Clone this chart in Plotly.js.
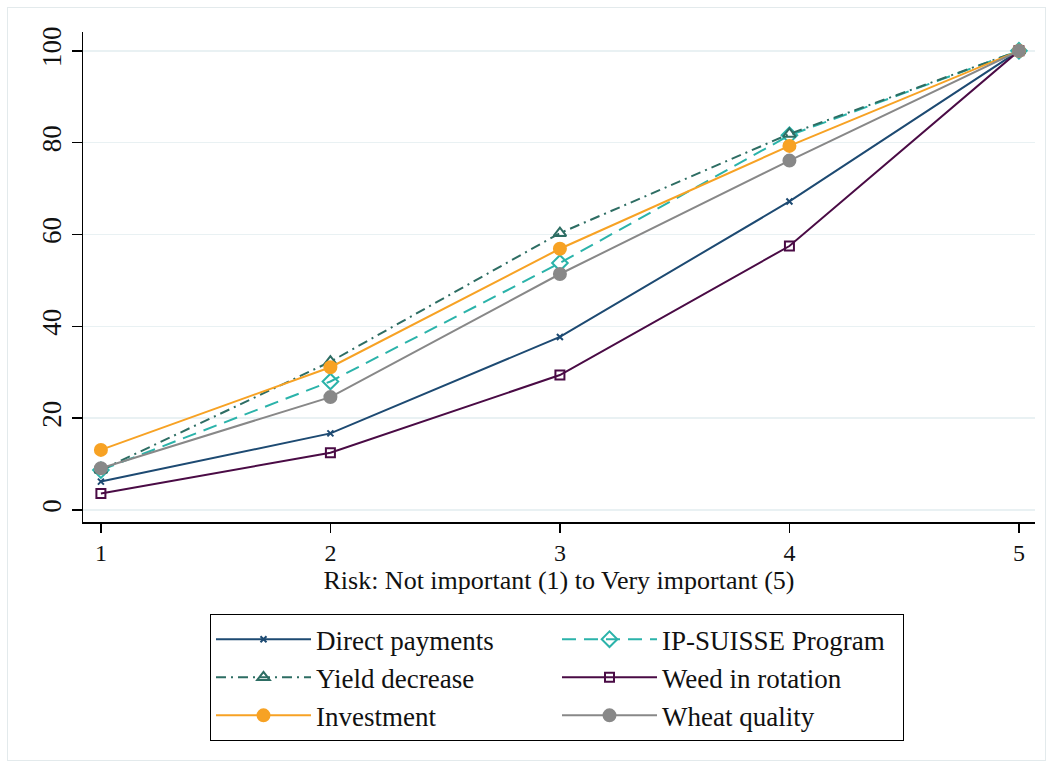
<!DOCTYPE html>
<html>
<head>
<meta charset="utf-8">
<script src="https://cdn.plot.ly/plotly-3.0.1.min.js"></script>
<style>
html,body{margin:0;padding:0;background:#fff;}
#frame{position:absolute;left:7px;top:7px;width:1039px;height:754px;border:1px solid #e3eaec;box-sizing:border-box;pointer-events:none;}
#chart{width:1054px;height:769px;}
</style>
</head>
<body>
<div id="chart"></div>
<div id="frame"></div>
<script>
const xLevels = [1, 2, 3, 4, 5];
const directPayments = [6.2, 16.7, 37.7, 67.2, 100];
const ipSuisse = [8.7, 28.0, 53.8, 81.6, 100];
const yieldDecrease = [8.7, 32.3, 60.3, 81.9, 100];
const weedInRotation = [3.6, 12.5, 29.4, 57.5, 100];
const investment = [13.1, 31.1, 56.9, 79.3, 100];
const wheatQuality = [9.1, 24.6, 51.4, 76.1, 100];

const font = 'Liberation Serif, Times New Roman, serif';

function tr(name, y, color, dash, symbol, size, lw) {
  return {
    x: xLevels, y: y, name: name, type: 'scatter', mode: 'lines+markers',
    line: {color: color, width: lw || 2, dash: dash},
    marker: {symbol: symbol, size: size, color: color, line: {color: color, width: 2}}
  };
}

const data = [
  tr('Direct payments', directPayments, '#1d4a72', 'solid', 'x-thin', 6, 2),
  tr('IP-SUISSE Program', ipSuisse, '#2bb3aa', '14px,8px', 'diamond-open', 12, 2),
  tr('Yield decrease', yieldDecrease, '#2d6d63', '10px,5px,2px,5px', 'triangle-up-open', 11, 2),
  tr('Weed in rotation', weedInRotation, '#4a0b45', 'solid', 'square-open', 9, 2),
  tr('Investment', investment, '#f7a224', 'solid', 'circle', 12, 2),
  tr('Wheat quality', wheatQuality, '#888888', 'solid', 'circle', 12, 2)
];

const layout = {
  width: 1054, height: 769,
  margin: {l: 83, r: 19, t: 32, b: 247},
  paper_bgcolor: '#ffffff', plot_bgcolor: '#ffffff',
  font: {family: font, color: '#111', size: 24},
  showlegend: true,
  xaxis: {
    range: [0.922, 5.07], tickvals: xLevels, ticktext: ['1','2','3','4','5'],
    showgrid: false, zeroline: false, showline: true, linecolor: '#000', linewidth: 1.5,
    ticks: 'outside', ticklen: 9, tickcolor: '#000', tickwidth: 1.5,
    tickfont: {family: font, size: 24, color: '#111'},
    title: {text: 'Risk: Not important (1) to Very important (5)', font: {family: font, size: 26, color: '#111'}, standoff: 4}
  },
  yaxis: {
    range: [-2.6, 104.1], tickvals: [0, 20, 40, 60, 80, 100],
    showgrid: true, gridcolor: '#e9f1f3', gridwidth: 1.5, zeroline: false,
    showline: true, linecolor: '#000', linewidth: 1.5,
    ticks: 'outside', ticklen: 10, tickcolor: '#000', tickwidth: 1.5,
    tickangle: -90, tickfont: {family: font, size: 27, color: '#111'}
  },
  legend: {
    orientation: 'h', x: 0.1334, xanchor: 'left', y: -0.188, yanchor: 'top',
    bordercolor: '#000', borderwidth: 1, bgcolor: '#fff',
    font: {family: font, size: 27, color: '#111'},
    entrywidth: 236, entrywidthmode: 'pixels', itemwidth: 95,
    tracegroupgap: 0
  }
};

Plotly.newPlot('chart', data, layout, {displayModeBar: false, staticPlot: true});
</script>
</body>
</html>
